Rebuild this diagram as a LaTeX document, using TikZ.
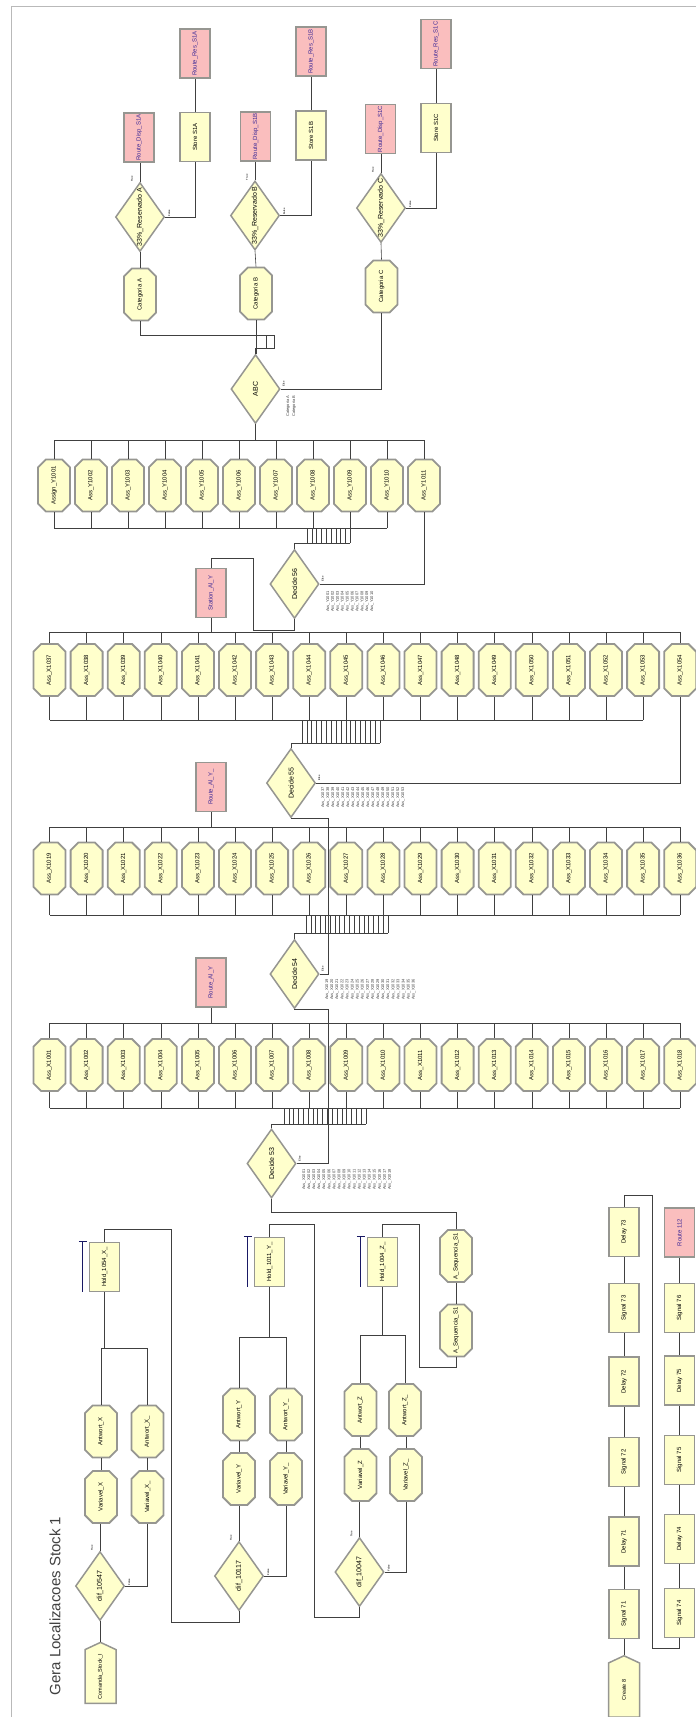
\documentclass[tikz,border=0pt]{standalone}
\usepackage{fontspec}
\setmainfont{Liberation Sans}
\usetikzlibrary{shapes.geometric, shapes.misc, shapes.symbols}

\definecolor{modfill}{RGB}{255,255,204}
\definecolor{routefill}{RGB}{250,190,190}
\definecolor{modedge}{RGB}{150,150,145}
\definecolor{routetext}{RGB}{60,40,150}
\definecolor{queueline}{RGB}{25,25,100}
\newcommand{\vtext}[1]{\rotatebox{90}{#1}}

\begin{document}
\begin{tikzpicture}[x=1pt, y=-1pt,
    assignbox/.style={chamfered rectangle, chamfered rectangle xsep=5pt, chamfered rectangle ysep=5pt, draw=modedge, line width=1.8pt, fill=modfill, minimum width=32pt, minimum height=52pt, inner sep=0pt, font=\fontsize{6}{6}\selectfont},
    modbox/.style={rectangle, draw=modedge, line width=1.5pt, fill=modfill, minimum width=30pt, minimum height=49pt, inner sep=0pt, font=\fontsize{6}{6}\selectfont},
    routebox/.style={modbox, fill=routefill, text=routetext},
    decision/.style={diamond, draw=modedge, line width=1.5pt, fill=modfill, minimum width=49pt, minimum height=69pt, inner sep=0pt},
    dlabel/.style={font=\fontsize{7}{7}\selectfont, rotate=90, inner sep=0pt},
    createbox/.style={signal, signal to=north, signal pointer angle=130, draw=modedge, line width=1.5pt, fill=modfill, minimum width=31pt, minimum height=55pt, inner sep=0pt, font=\fontsize{5.5}{5.5}\selectfont},
    flow/.style={draw=black!75, line width=0.6pt},
    queue/.style={draw=queueline, line width=0.6pt},
    cond/.style={font=\fontsize{4}{4}\selectfont, text=black!75, inner sep=0pt, rotate=90, anchor=west},
    exitmark/.style={font=\fontsize{2.6}{2.6}\selectfont\bfseries, text=black!80, inner sep=0pt, rotate=90},
    title/.style={font=\fontsize{15}{15}\selectfont, text=black!75, rotate=90, inner sep=0pt}
  ]
  \clip (0,0) rectangle (696,1717);
  \draw[gray!55, line width=0.8pt] (11,6) rectangle (720,1740);

  % Nodes: reservas S1A / S1B / S1C
  \node[routebox] (rresA) at (195,53.5) {\vtext{Route\_Res\_S1A}};
  \node[modbox] (storeA) at (195,137) {\vtext{Store S1A}};
  \node[routebox] (rdispA) at (139,137.5) {\vtext{Route\_Disp\_S1A}};
  \node[decision, label={[dlabel]center:33\%\_Reservado A}] (resA) at (140,217) {};
  \node[assignbox] (catA) at (140,294.5) {\vtext{Categoria A}};
  \node[routebox] (rresB) at (311,51.5) {\vtext{Route\_Res\_S1B}};
  \node[modbox] (storeB) at (311,135.5) {\vtext{Store S1B}};
  \node[routebox] (rdispB) at (255.5,136.5) {\vtext{Route\_Disp\_S1B}};
  \node[decision, label={[dlabel]center:33\%\_Reservado B}] (resB) at (255,215.5) {};
  \node[assignbox] (catB) at (256,293.5) {\vtext{Categoria B}};
  \node[routebox] (rresC) at (436,44) {\vtext{Route\_Res\_S1C}};
  \node[modbox] (storeC) at (436,128) {\vtext{Store S1C}};
  \node[routebox] (rdispC) at (380.5,129) {\vtext{Route\_Disp\_S1C}};
  \node[decision, label={[dlabel]center:33\%\_Reservado C}] (resC) at (381,208) {};
  \node[assignbox] (catC) at (381.5,286.5) {\vtext{Categoria C}};
  \node[decision, label={[dlabel]center:ABC}] (abc) at (255.5,389) {};

  % Nodes: linhas Ass_Y / Ass_X
  \node[assignbox] (y1) at (54,485.5) {\vtext{Assign\_Y1001}};
  \foreach \i in {2,...,11} {
    \pgfmathtruncatemacro{\n}{1000+\i}
    \node[assignbox] (y\i) at ({54+37*(\i-1)},485.5) {\vtext{Ass\_Y\n}};
  }
  \foreach \i in {1,...,18} {
    \pgfmathtruncatemacro{\na}{1036+\i}
    \pgfmathtruncatemacro{\nb}{1018+\i}
    \pgfmathtruncatemacro{\nc}{1000+\i}
    \node[assignbox] (xa\i) at ({49.5+37.1*(\i-1)},670) {\vtext{Ass\_X\na}};
    \node[assignbox] (xb\i) at ({49.5+37.1*(\i-1)},868.5) {\vtext{Ass\_X\nb}};
    \node[assignbox] (xc\i) at ({49.5+37.1*(\i-1)},1065) {\vtext{Ass\_X\nc}};
  }
  \node[decision, label={[dlabel]center:Decide 56}] (decide56) at (294.5,584) {};
  \node[decision, label={[dlabel]center:Decide 55}] (decide55) at (291,783) {};
  \node[decision, label={[dlabel]center:Decide 54}] (decide54) at (294.5,974) {};
  \node[decision, label={[dlabel]center:Decide 53}] (decide53) at (271.5,1163.5) {};
  \node[routebox] (station) at (211,593) {\vtext{Station\_Al\_Y}};
  \node[routebox] (routeA) at (211,787) {\vtext{Route\_Al\_Y\_}};
  \node[routebox] (routeB) at (211,982.5) {\vtext{Route\_Al\_Y}};

  % Nodes: gera localizacoes
  \node[title] (title) at (55,1606) {Gera Localizacoes Stock 1};
  \node[modbox] (holdX) at (104.5,1267) {\vtext{Hold\_1054\_X\_}};
  \node[modbox] (holdY) at (269.5,1262) {\vtext{Hold\_1011\_Y\_}};
  \node[modbox] (holdZ) at (382.5,1262) {\vtext{Hold\_1004\_Z\_}};
  \node[assignbox] (seqA) at (456,1256) {\vtext{A\_Sequencia\_S1}};
  \node[assignbox] (seqB) at (456,1330.5) {\vtext{A\_Sequencia\_S1}};
  \node[assignbox] (antX) at (101,1431.5) {\vtext{Antwort\_X}};
  \node[assignbox] (antXu) at (147.5,1431.5) {\vtext{Antwort\_X\_}};
  \node[assignbox] (varX) at (101,1497) {\vtext{Variavel\_X}};
  \node[assignbox] (varXu) at (147.5,1497) {\vtext{Variavel\_X\_}};
  \node[decision, label={[dlabel]center:dif\_10547}] (difX) at (100,1586) {};
  \node[createbox] (comanda) at (100.5,1676.5) {\vtext{Comanda\_Stock\_I}};
  \node[assignbox] (antY) at (239,1414.5) {\vtext{Antwort\_Y}};
  \node[assignbox] (antYu) at (286,1414.5) {\vtext{Antwort\_Y\_}};
  \node[assignbox] (varY) at (239,1479) {\vtext{Variavel\_Y}};
  \node[assignbox] (varYu) at (286,1479) {\vtext{Variavel\_Y\_}};
  \node[decision, label={[dlabel]center:dif\_10117}] (difY) at (239,1576) {};
  \node[assignbox] (antZ) at (360.5,1410) {\vtext{Antwort\_Z}};
  \node[assignbox] (antZu) at (405,1410) {\vtext{Antwort\_Z\_}};
  \node[assignbox] (varZ) at (360.5,1475) {\vtext{Variavel\_Z}};
  \node[assignbox] (varZu) at (406,1475) {\vtext{Variavel\_Z\_}};
  \node[decision, label={[dlabel]center:dif\_10047}] (difZ) at (359.5,1572) {};

  % Nodes: sinais
  \node[createbox] (create8) at (624,1690) {\vtext{Create 8}};
  \node[modbox] (sig71) at (624,1614) {\vtext{Signal 71}};
  \node[modbox] (del71) at (624,1541.5) {\vtext{Delay 71}};
  \node[modbox] (sig72) at (624,1462) {\vtext{Signal 72}};
  \node[modbox] (del72) at (624,1381.5) {\vtext{Delay 72}};
  \node[modbox] (sig73) at (624,1308) {\vtext{Signal 73}};
  \node[modbox] (del73) at (624,1232) {\vtext{Delay 73}};
  \node[modbox] (sig74) at (679.5,1613) {\vtext{Signal 74}};
  \node[modbox] (del74) at (679.5,1539) {\vtext{Delay 74}};
  \node[modbox] (sig75) at (679.5,1460) {\vtext{Signal 75}};
  \node[modbox] (del75) at (679.5,1380.5) {\vtext{Delay 75}};
  \node[modbox] (sig76) at (679.5,1308) {\vtext{Signal 76}};
  \node[routebox] (rt112) at (679.5,1232.5) {\vtext{Route 112}};

  % Exit labels
  \foreach \d in {resA,resB,resC,difX,difY,difZ} {
    \node[exitmark] (\d-t) at ([xshift=-8pt,yshift=3pt]\d.north) {True};
    \node[exitmark] (\d-f) at ([xshift=4pt,yshift=4pt]\d.east) {False};
  }
  \foreach \d in {abc,decide56,decide55,decide54,decide53}
    \node[exitmark] (\d-e) at ([xshift=3pt,yshift=5pt]\d.east) {Else};
  \node[cond] (cabc1) at (288,417) {Categoria A};
  \node[cond] (cabc2) at (294,417) {Categoria B};
  \foreach \k in {1,...,10} {
    \pgfmathtruncatemacro{\n}{1000+\k}
    \node[cond] (c56-\k) at ({328+4.9*(\k-1)},612) {Ass\_Y\n};
  }
  \foreach \k in {1,...,17} {
    \pgfmathtruncatemacro{\n}{1036+\k}
    \node[cond] (c55-\k) at ({323+5*(\k-1)},808) {Ass\_X\n};
  }
  \foreach \k in {1,...,18} {
    \pgfmathtruncatemacro{\nb}{1018+\k}
    \pgfmathtruncatemacro{\nc}{1000+\k}
    \node[cond] (c54-\k) at ({327+5.1*(\k-1)},1000) {Ass\_X\nb};
    \node[cond] (c53-\k) at ({304+5.05*(\k-1)},1190) {Ass\_X\nc};
  }

  % Edges: reservas
  \foreach \s in {A,B,C} {
    \draw[flow] (res\s.north) -- (res\s.north |- rdisp\s.south);
    \draw[flow] (res\s.east) -| (store\s.south);
    \draw[flow] (store\s.north) -- (rres\s.south);
    \draw[flow] (cat\s.north) -- (res\s.south);
  }
  \draw[flow] (catA.south) |- (274,335) -- (274,348) -| (abc.north);
  \draw[flow] (266,335) -- (266,348);
  \draw[flow] (catB.south) -- (catB.south |- abc.north);
  \draw[flow] (abc.east) -| (catC.south);

  % Edges: barramentos das linhas
  \coordinate (ybusT) at (0,440);
  \coordinate (ybusB) at (0,528);
  \coordinate (abusT) at (0,632);
  \coordinate (abusB) at (0,720);
  \coordinate (bbusT) at (0,827);
  \coordinate (bbusB) at (0,915);
  \coordinate (cbusT) at (0,1023);
  \coordinate (cbusB) at (0,1108);
  \draw[flow] (abc.south) -- (abc.south |- ybusT);
  \foreach \i in {1,...,11} \draw[flow] (y\i.north) -- (y\i.north |- ybusT);
  \foreach \i in {1,...,10} \draw[flow] (y\i.south) -- (y\i.south |- ybusB);
  \draw[flow] (y1.north |- ybusT) -- (y11.north |- ybusT);
  \draw[flow] (y1.south |- ybusB) -- (y10.south |- ybusB);
  \foreach \i in {1,...,18} {
    \draw[flow] (xa\i.north) -- (xa\i.north |- abusT);
    \draw[flow] (xb\i.north) -- (xb\i.north |- bbusT);
    \draw[flow] (xb\i.south) -- (xb\i.south |- bbusB);
    \draw[flow] (xc\i.north) -- (xc\i.north |- cbusT);
    \draw[flow] (xc\i.south) -- (xc\i.south |- cbusB);
  }
  \foreach \i in {1,...,17} \draw[flow] (xa\i.south) -- (xa\i.south |- abusB);
  \draw[flow] (xa1.north |- abusT) -- (xa18.north |- abusT);
  \draw[flow] (xa1.south |- abusB) -- (xa17.south |- abusB);
  \draw[flow] (xb1.north |- bbusT) -- (xb18.north |- bbusT);
  \draw[flow] (xb1.south |- bbusB) -- (xb18.south |- bbusB);
  \draw[flow] (xc1.north |- cbusT) -- (xc18.north |- cbusT);
  \draw[flow] (xc1.south |- cbusB) -- (xc18.south |- cbusB);

  % Edges: saidas dos decides
  \foreach \k in {0,...,9} \draw[flow] ({307+4.8*\k},528) -- ++(0,15);
  \foreach \k in {0,...,16} \draw[flow] ({302+4.875*\k},720) -- ++(0,23);
  \foreach \k in {0,...,17} {
    \draw[flow] ({306+4.82*\k},915) -- ++(0,18);
    \draw[flow] ({284+4.82*\k},1108) -- ++(0,16);
  }
  \draw[flow] (decide56.north) |- (350.2,543);
  \draw[flow] (decide55.north) |- (380,743);
  \draw[flow] (decide54.north) |- (388,933);
  \draw[flow] (decide53.north) |- (366,1124);
  \draw[flow] (decide56.east) -| (y11.south);
  \draw[flow] (decide55.east) -| (xa18.south);
  \draw[flow] (decide54.east) -| (328,818) -| (decide55.south);
  \draw[flow] (decide53.east) -| (328,1009) -| (decide54.south);
  \draw[flow] (decide56.south) -- ++(0,11) -| (253,558) -| (station.north);
  \draw[flow] (station.south) -- (station.south |- abusT);
  \draw[flow] (routeA.south) -- (routeA.south |- bbusT);
  \draw[flow] (routeB.south) -- (routeB.south |- cbusT);

  % Edges: gera localizacoes
  \draw[flow] (seqA.north) -- ++(0,-17) -| (decide53.south);
  \draw[flow] (seqB.north) -- (seqA.south);
  \draw[flow] (holdZ.north) -- ++(0,-12) -| (419,1367) -| (seqB.south);
  \draw[flow] (holdY.north) -- ++(0,-12) -| (314,1617) -| (difZ.south);
  \draw[flow] (holdX.north) -- ++(0,-12) -| (171,1622) -| (difY.south);
  \coordinate (jX) at (104.5,1348);
  \coordinate (jY) at (269.5,1337);
  \coordinate (jZ) at (382.5,1335);
  \foreach \h/\a/\b/\va/\vb/\d/\j in {holdX/antX/antXu/varX/varXu/difX/jX,
      holdY/antY/antYu/varY/varYu/difY/jY, holdZ/antZ/antZu/varZ/varZu/difZ/jZ} {
    \draw[flow] (\h.south) -- (\j);
    \draw[flow] (\a.north) |- (\b.north |- \j) -- (\b.north);
    \draw[flow] (\va.north) -- (\va.north |- \a.south);
    \draw[flow] (\vb.north) -- (\vb.north |- \b.south);
    \draw[flow] (\d.north) -- (\d.north |- \va.south);
    \draw[flow] (\d.east) -| (\vb.south);
    \draw[queue] ([xshift=-6pt]\h.north west) -- ([xshift=-6pt]\h.south west);
    \draw[queue] ([xshift=-10pt]\h.north west) -- ([xshift=-1.5pt]\h.north west);
  }
  \draw[flow] (comanda.north) -- (comanda.north |- difX.south);

  % Edges: sinais
  \foreach \a/\b in {create8/sig71, sig71/del71, del71/sig72, sig72/del72, del72/sig73, sig73/del73,
      sig74/del74, del74/sig75, sig75/del75, del75/sig76, sig76/rt112}
    \draw[flow] (\a.north) -- (\b.south);
  \draw[flow] (del73.north) -- ++(0,-11) -| (652,1648) -| (sig74.south);
\end{tikzpicture}
\end{document}
